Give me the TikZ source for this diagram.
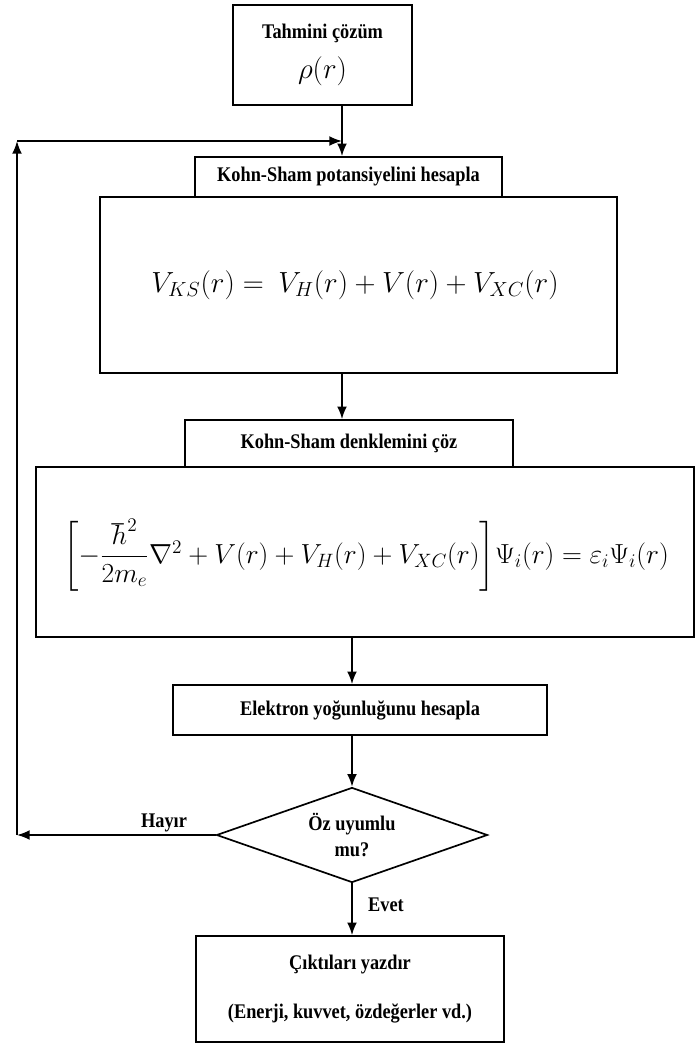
\documentclass[tikz,border=0pt]{standalone}
\usepackage{fix-cm}
\usepackage{amsmath}
\usepackage{fontspec}
\setmainfont{Liberation Serif}[FakeStretch=0.88]
\usetikzlibrary{arrows.meta,shapes.geometric}
\newcommand{\pxu}{0.025cm}

\begin{document}
\begin{tikzpicture}[x=0.025cm, y=-0.025cm, line width=1.2pt,
    box/.style={rectangle, draw, inner sep=0pt, align=center, font=\fontsize{14.8}{17}\selectfont\bfseries},
    lbl/.style={inner sep=0pt, font=\fontsize{14.8}{17}\selectfont\bfseries},
    eqn/.style={inner sep=0pt, font=\fontsize{20.7}{24}\selectfont},
    flow/.style={-{Latex[length=9pt,width=7pt]}}]
    \useasboundingbox (0,0) rectangle (695,1046);

    % Blocks
    \node[box, minimum width=179*\pxu, minimum height=100*\pxu] (guess) at (322.5,55)
        {Tahmini çözüm\\[9pt]{\fontsize{20.7}{22}\selectfont$\rho(r)$}};
    \node[box, minimum width=307*\pxu, minimum height=40*\pxu] (hdr1) at (348.5,177) {Kohn-Sham potansiyelini hesapla};
    \node[box, minimum width=517*\pxu, minimum height=176*\pxu] (ks) at (358.5,285) {};
    \node[eqn] (kseqn) at (355,285) {$V_{KS}(r) =\ V_H(r) + V(r) + V_{XC}(r)$};
    \node[box, minimum width=328*\pxu, minimum height=47*\pxu] (hdr2) at (349,443.5) {Kohn-Sham denklemini çöz};
    \node[box, minimum width=658*\pxu, minimum height=170*\pxu] (kseq) at (365,552) {};
    \node[eqn, font=\fontsize{19.6}{23}\selectfont] (schr) at (366,555)
        {$\left[-\dfrac{\hbar^2}{2m_e}\nabla^2 + V(r) + V_H(r) + V_{XC}(r)\right]\!\Psi_i(r) = \varepsilon_i\Psi_i(r)$};
    \node[box, minimum width=374*\pxu, minimum height=50*\pxu] (dens) at (360,710) {Elektron yoğunluğunu hesapla};
    \node[box, shape=diamond, aspect=2.85, minimum width=271*\pxu, minimum height=95*\pxu] (conv) at (352,835)
        {Öz uyumlu\\[2pt]mu?};
    \node[box, minimum width=308*\pxu, minimum height=106*\pxu] (out) at (350,989)
        {Çıktıları yazdır\\[18pt](Enerji, kuvvet, özdeğerler vd.)};

    % Columns and feedback corners
    \coordinate (colA) at (342,0);
    \coordinate (colB) at (352,0);
    \coordinate (backbot) at (17,835);
    \coordinate (backtop) at (17,141);
    \coordinate (join) at (342,141);

    % Main flow
    \draw[flow] (guess.south -| colA) -- (hdr1.north -| colA);
    \draw[flow] (ks.south -| colA) -- (hdr2.north -| colA);
    \draw[flow] (kseq.south -| colB) -- (dens.north -| colB);
    \draw[flow] (dens.south -| colB) -- (conv.north);
    \draw[flow] (conv.south) -- (out.north -| colB);
    \node[lbl] (yes) at (386,905) {Evet};

    % Loop back
    \draw[flow] (conv.west) -- (backbot);
    \draw[flow] (backbot) -- (backtop);
    \draw[flow] (backtop) -- (join);
    \node[lbl] (no) at (164,823) {Hayır};
\end{tikzpicture}
\end{document}
